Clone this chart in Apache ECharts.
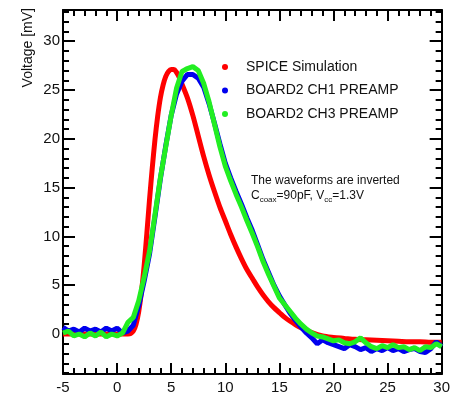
<!DOCTYPE html>
<html><head><meta charset="utf-8">
<script src="https://cdn.jsdelivr.net/npm/echarts@6/dist/echarts.min.js"></script>
<style>html,body{margin:0;padding:0;background:#fff}#c{width:453px;height:395px}</style>
</head><body><div id="c"></div>
<script>
// ---- data ----
const seriesNames = ['SPICE Simulation', 'BOARD2 CH1 PREAMP', 'BOARD2 CH3 PREAMP'];
const xTickLabels = [-5, 0, 5, 10, 15, 20, 25, 30];
const yTickLabels = [0, 5, 10, 15, 20, 25, 30];

const spiceTimeNs = [-5, -4, -3, -2, -1, 0, 1, 1.25, 1.5, 1.75, 2, 2.25, 2.5, 2.75, 3, 3.25, 3.5, 3.75, 4, 4.25, 4.5, 4.75, 5, 5.25, 5.5, 5.75, 6, 6.5, 7, 7.5, 8, 8.5, 9, 9.5, 10, 10.5, 11, 11.5, 12, 12.5, 13, 13.5, 14, 14.5, 15, 15.5, 16, 16.5, 17, 18, 19, 20, 21, 22, 23, 24, 25, 26, 27, 28, 29, 30];
const spiceMv = [0, 0, 0, 0, 0, 0, 0, 0.05, 0.3, 1.0, 2.3, 4.3, 7.0, 10.3, 13.8, 17.0, 19.9, 22.3, 24.2, 25.5, 26.4, 26.9, 27.1, 27.1, 26.8, 26.3, 25.6, 24.2, 22.4, 20.3, 18.2, 16.3, 14.6, 13.0, 11.6, 10.2, 8.9, 7.7, 6.6, 5.7, 4.8, 4.0, 3.3, 2.7, 2.2, 1.7, 1.3, 0.95, 0.65, 0.15, -0.2, -0.35, -0.45, -0.55, -0.6, -0.65, -0.7, -0.75, -0.8, -0.8, -0.85, -0.85];

const boardTimeNs = [-5, -4.5, -4, -3.5, -3, -2.5, -2, -1.5, -1, -0.5, 0, 0.5, 1, 1.5, 2, 2.5, 3, 3.5, 4, 4.5, 5, 5.5, 6, 6.5, 7, 7.5, 8, 8.5, 9, 9.5, 10, 10.5, 11, 11.5, 12, 12.5, 13, 13.5, 14, 14.5, 15, 15.5, 16, 16.5, 17, 17.5, 18, 18.5, 19, 19.5, 20, 20.5, 21, 21.5, 22, 22.5, 23, 23.5, 24, 24.5, 25, 25.5, 26, 26.5, 27, 27.5, 28, 28.5, 29, 29.5, 30];
const ch1Mv = [0.7, 0.3, 0.5, 0.2, 0.6, 0.3, 0.5, 0.2, 0.6, 0.3, 0.6, 0.1, 0.3, 0.9, 2.9, 5.4, 8.2, 12.0, 15.9, 19.3, 22.4, 24.6, 25.9, 26.6, 26.6, 26.2, 25.3, 23.6, 21.6, 19.5, 17.5, 16.0, 14.6, 13.3, 11.9, 10.6, 9.1, 7.6, 6.3, 5.0, 3.9, 3.0, 2.1, 1.4, 0.7, 0.1, -0.4, -1.0, -0.6, -0.9, -1.1, -1.3, -1.5, -1.1, -1.3, -1.6, -1.4, -1.8, -1.5, -1.7, -1.4, -1.7, -1.5, -1.8, -1.6, -1.5, -1.8, -1.9, -1.5, -0.8, -1.3];
const ch3Mv = [0.1, 0.3, -0.2, 0.0, -0.3, 0.1, -0.2, 0.2, -0.3, 0.0, -0.2, 0.1, 1.2, 1.7, 3.4, 5.8, 8.5, 12.2, 16.0, 19.2, 22.4, 25.2, 26.9, 27.2, 27.4, 27.0, 25.7, 23.8, 21.5, 19.2, 17.2, 15.7, 14.3, 13.0, 11.6, 10.3, 8.9, 7.4, 6.1, 4.9, 3.7, 3.0, 2.3, 1.6, 1.0, 0.5, 0.1, -0.2, -0.3, -0.5, -0.7, -0.6, -0.9, -1.0, -0.8, -0.4, -0.9, -1.3, -1.5, -1.2, -1.4, -1.1, -1.4, -1.3, -1.6, -1.4, -1.7, -1.3, -1.4, -1.0, -1.3];

// ---- chart ----
const F = "'Liberation Sans', Arial, Helvetica, sans-serif";
const pair = (xs, ys) => xs.map((x, i) => [x, ys[i]]);
const YMIN = -4.1, YMAX = 33.2;
const black = { color: '#000', width: 2 };

function yAx(pos, major) {
  return {
    type: 'value', position: pos, min: YMIN, max: YMAX,
    minInterval: major ? 5 : 1, maxInterval: major ? 5 : 1, splitNumber: major ? 7 : 37,
    axisLine: { show: major, onZero: false, lineStyle: black },
    axisTick: { show: true, inside: true, length: major ? 12 : 6, lineStyle: black },
    axisLabel: {
      show: major && pos === 'left', margin: 3, fontFamily: F, fontSize: 15, color: '#111',
      formatter: v => (yTickLabels.includes(v) ? String(v) : '')
    },
    splitLine: { show: false }
  };
}
function xAx(pos) {
  return {
    type: 'value', position: pos, min: -5, max: 30, interval: 5,
    axisLine: { show: true, onZero: false, lineStyle: black },
    axisTick: { show: true, inside: true, length: 11, lineStyle: black },
    minorTick: { show: true, splitNumber: 5, length: 6, lineStyle: black },
    axisLabel: {
      show: pos === 'bottom', margin: 6, fontFamily: F, fontSize: 15, color: '#111',
      formatter: v => (xTickLabels.includes(v) ? String(v) : '')
    },
    splitLine: { show: false }
  };
}

const chart = echarts.init(document.getElementById('c'), null, { renderer: 'canvas' });
chart.setOption({
  animation: false,
  backgroundColor: '#fff',
  grid: { left: 63, right: 9, top: 10, bottom: 18, containLabel: false },
  xAxis: [xAx('bottom'), xAx('top')],
  yAxis: [yAx('left', true), yAx('left', false), yAx('right', true), yAx('right', false)],
  legend: {
    orient: 'vertical', left: 217, top: 55, itemWidth: 6, itemHeight: 6, itemGap: 9.5,
    icon: 'circle', selectedMode: false, data: seriesNames,
    textStyle: { fontFamily: F, fontSize: 14, color: '#111', lineHeight: 14, padding: [0, 0, 0, 13] }
  },
  series: [
    { type: 'line', name: seriesNames[0], data: pair(spiceTimeNs, spiceMv), showSymbol: false, symbol: 'circle',
      smooth: 0.3, lineStyle: { color: '#ff0000', width: 5 }, itemStyle: { color: '#ff0000' }, z: 2 },
    { type: 'line', name: seriesNames[1], data: pair(boardTimeNs, ch1Mv), showSymbol: false, symbol: 'circle',
      lineStyle: { color: '#0000ee', width: 5 }, itemStyle: { color: '#0000ee' }, z: 3 },
    { type: 'line', name: seriesNames[2], data: pair(boardTimeNs, ch3Mv), showSymbol: false, symbol: 'circle',
      lineStyle: { color: '#22ee22', width: 5 }, itemStyle: { color: '#22ee22' }, z: 4 }
  ],
  graphic: [
    { type: 'text', x: 28, y: 8, rotation: Math.PI / 2,
      style: { text: 'Voltage [mV]', fontFamily: F, fontSize: 14, fill: '#111', align: 'right', verticalAlign: 'middle' } },
    { type: 'text', x: 251, y: 175,
      style: { text: 'The waveforms are inverted', fontFamily: F, fontSize: 12, fill: '#111', align: 'left', verticalAlign: 'top' } },
    { type: 'text', x: 251, y: 187,
      style: { text: 'C{s|coax}=90pF, V{s|cc}=1.3V', fontFamily: F, fontSize: 12, fill: '#111', align: 'left', verticalAlign: 'top',
        rich: { s: { fontFamily: F, fontSize: 8, fill: '#111', padding: [9, 0, 0, 0] } } } }
  ]
});
</script>
</body></html>
